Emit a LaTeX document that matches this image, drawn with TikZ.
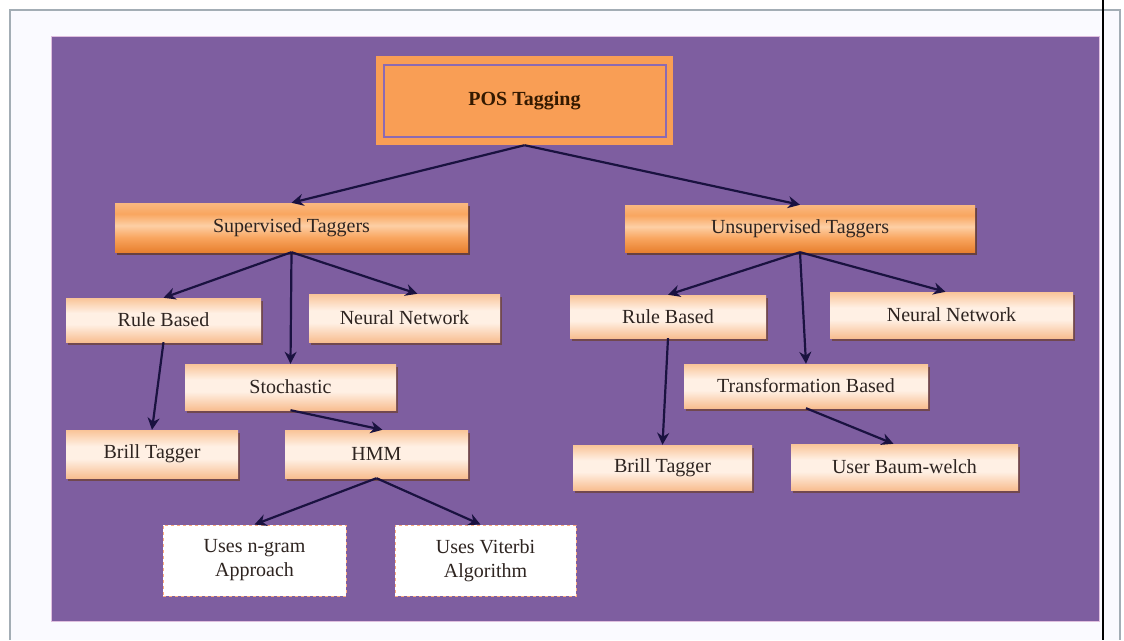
\documentclass[tikz,border=0pt]{standalone}
\usepackage{fontspec}
\setmainfont{Liberation Serif}
\usetikzlibrary{arrows.meta,shadows,calc}
\definecolor{panel}{HTML}{7E5EA0}
\definecolor{frameline}{HTML}{A3ADB5}
\definecolor{arrowink}{HTML}{1A1240}
\definecolor{textink}{HTML}{2E2420}
\definecolor{rootfill}{HTML}{F99E55}
\definecolor{rootline}{HTML}{8C6AB2}
\definecolor{tierdark}{HTML}{E8802F}
\definecolor{tiermid}{HTML}{F9A660}
\definecolor{tierlight}{HTML}{FDCFA5}
\definecolor{tiertop}{HTML}{FAB880}
\definecolor{leafedge}{HTML}{F8BE91}
\definecolor{leaflight}{HTML}{FFF0E4}
\definecolor{leaftop}{HTML}{F9C498}
% banded orange for the two tagger classes
\pgfdeclareverticalshading{tierband}{100bp}{%
  color(0bp)=(tierdark); color(25bp)=(tierdark); color(40bp)=(tiermid);
  color(52bp)=(tierlight); color(64bp)=(tiermid); color(75bp)=(tiertop);
  color(100bp)=(tiertop)}
% pale peach for the leaf boxes
\pgfdeclareverticalshading{leafband}{100bp}{%
  color(0bp)=(leafedge); color(25bp)=(leafedge); color(45bp)=(leaflight);
  color(58bp)=(leaflight); color(75bp)=(leaftop); color(100bp)=(leaftop)}
\tikzset{
  basebox/.style={rectangle, inner sep=0pt, align=center, text=textink,
    font=\fontsize{20}{23}\selectfont},
  mainbox/.style={basebox, shading=tierband,
    drop shadow={shadow xshift=1.5pt, shadow yshift=-3pt, fill=black!65!orange, opacity=.6}},
  leafbox/.style={basebox, shading=leafband,
    drop shadow={shadow xshift=1.5pt, shadow yshift=-3pt, fill=black!60!orange, opacity=.5}},
  notebox/.style={basebox, fill=white, draw=rootfill!60!pink, dashed, line width=1pt,
    font=\fontsize{20}{24}\selectfont},
  link/.style={draw=arrowink, line width=2.2pt, -{Stealth[length=12pt,width=12pt]}}
}
\begin{document}
\begin{tikzpicture}[x=1pt, y=-1pt]
  \useasboundingbox (0,0) rectangle (1124,640);
  % page frame and panel
  \fill[white] (0,0) rectangle (1124,640);
  \fill[blue!2!white] (10,10) rectangle (1120,640);
  \draw[frameline, line width=1.5pt] (10,640) -- (10,10) -- (1120,10) -- (1120,640);
  \fill[panel] (51,36) rectangle (1099,621);
  \draw[violet!25!white, line width=0.8pt] (51,36) rectangle (1099,621);
  \draw[black, line width=2pt] (1103,0) -- (1103,640);

  % root
  \node[basebox, fill=rootfill, minimum width=297pt, minimum height=89pt,
        font=\bfseries\fontsize{20}{23}\selectfont, text=black!80!orange] (pos) at (524.5,100.5) {POS Tagging};
  \draw[rootline, line width=2pt] (384,65) rectangle (666,137);

  % second level
  \node[mainbox, minimum width=353pt, minimum height=49pt] (sup) at (291.5,227.5) {Supervised Taggers};
  \node[mainbox, minimum width=350pt, minimum height=47pt] (uns) at (800,228.5) {Unsupervised Taggers};

  % supervised branch
  \node[leafbox, minimum width=195pt, minimum height=44pt] (rbl) at (163.5,320) {Rule Based};
  \node[leafbox, minimum width=191pt, minimum height=48pt] (nnl) at (404.5,318) {Neural Network};
  \node[leafbox, minimum width=211pt, minimum height=46pt] (sto) at (290.5,387) {Stochastic};
  \node[leafbox, minimum width=172pt, minimum height=48pt] (brl) at (152,454) {Brill Tagger};
  \node[leafbox, minimum width=183pt, minimum height=48pt] (hmm) at (376.5,454) {HMM};
  \node[notebox, minimum width=183pt, minimum height=71pt] (ngr) at (254.5,560.5) {Uses n-gram\\Approach};
  \node[notebox, minimum width=181pt, minimum height=71pt] (vit) at (485.5,560.5) {Uses Viterbi\\Algorithm};

  % unsupervised branch
  \node[leafbox, minimum width=196pt, minimum height=43pt] (rbr) at (668,316.5) {Rule Based};
  \node[leafbox, minimum width=243pt, minimum height=46pt] (nnr) at (951.5,315) {Neural Network};
  \node[leafbox, minimum width=244pt, minimum height=44pt] (trf) at (806,386) {Transformation Based};
  \node[leafbox, minimum width=179pt, minimum height=45pt] (brr) at (662.5,467.5) {Brill Tagger};
  \node[leafbox, minimum width=227pt, minimum height=46pt] (bmw) at (904.5,467) {User Baum-welch};

  % connectors
  \draw[link] (pos.south) -- (sup.north);
  \draw[link] (pos.south) -- (uns.north);
  \draw[link] (sup.south) -- (rbl.north);
  \draw[link] (sup.south) -- (sto.north);
  \draw[link] (sup.south) -- ($(nnl.north)+(13,0)$);
  \draw[link] (rbl.south) -- (brl.north);
  \draw[link] (sto.south) -- ($(hmm.north)+(6,0)$);
  \draw[link] (hmm.south) -- (ngr.north);
  \draw[link] (hmm.south) -- ($(vit.north)+(-5,0)$);
  \draw[link] (uns.south) -- (rbr.north);
  \draw[link] (uns.south) -- (trf.north);
  \draw[link] (uns.south) -- ($(nnr.north)+(-6,0)$);
  \draw[link] (rbr.south) -- (brr.north);
  \draw[link] (trf.south) -- ($(bmw.north)+(-11,0)$);
\end{tikzpicture}
\end{document}
